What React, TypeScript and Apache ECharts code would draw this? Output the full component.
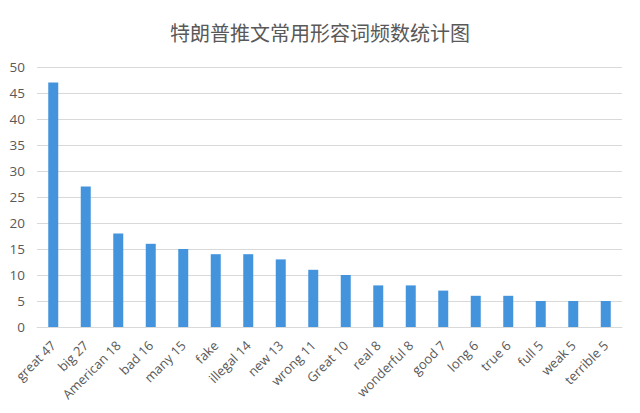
import React, { useEffect, useRef } from "react";
import * as echarts from "echarts";

const title = "特朗普推文常用形容词频数统计图";
const categories = [
  "great 47", "big 27", "American 18", "bad 16", "many 15", "fake",
  "illegal 14", "new 13", "wrong 11", "Great 10", "real 8", "wonderful 8",
  "good 7", "long 6", "true 6", "full 5", "weak 5", "terrible 5",
];
const values = [47, 27, 18, 16, 15, 14, 14, 13, 11, 10, 8, 8, 7, 6, 6, 5, 5, 5];
const yMin = 0;
const yMax = 50;
const yInterval = 5;

export default function App() {
  const ref = useRef<HTMLDivElement>(null);
  useEffect(() => {
    if (!ref.current) return;
    const chart = echarts.init(ref.current, undefined, { renderer: "svg" });
    chart.setOption({
      animation: false,
      backgroundColor: "#ffffff",
      title: {
        text: title,
        left: "center",
        top: 17,
        textStyle: {
          fontFamily: "Noto Sans CJK SC",
          fontSize: 20,
          fontWeight: "normal",
          color: "#595959",
        },
      },
      grid: { left: 37, right: 18, top: 67, bottom: 86, containLabel: false },
      xAxis: {
        type: "category",
        data: categories,
        axisLine: { show: true, lineStyle: { color: "#d9d9d9", width: 1 } },
        axisTick: { show: false },
        axisLabel: {
          interval: 0,
          rotate: 45,
          margin: 16,
          color: "#595959",
          fontFamily: "Open Sans",
          fontSize: 13,
        },
      },
      yAxis: {
        type: "value",
        min: yMin,
        max: yMax,
        interval: yInterval,
        axisLine: { show: false },
        axisTick: { show: false },
        splitLine: { lineStyle: { color: "#d9d9d9", width: 1 } },
        axisLabel: {
          margin: 12,
          color: "#595959",
          fontFamily: "Open Sans",
          fontSize: 13.5,
        },
      },
      series: [
        {
          type: "bar",
          data: values,
          barWidth: 10,
          itemStyle: { color: "#4394dc" },
        },
      ],
    });
    return () => chart.dispose();
  }, []);
  return (
    <div
      ref={ref}
      style={{ width: 640, height: 413, position: "absolute", left: 0, top: 0 }}
    />
  );
}
